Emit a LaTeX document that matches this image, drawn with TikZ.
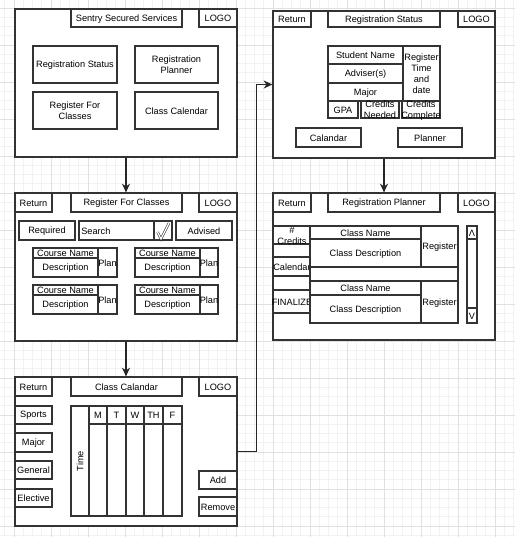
\documentclass[tikz,border=0pt]{standalone}
\usepackage{fontspec}
\setmainfont{Liberation Sans}
\usetikzlibrary{arrows.meta}

\tikzset{
  frame/.style={draw=black!80, fill=white, line width=0.95pt, inner sep=0pt},
  box/.style={draw=black!80, fill=white, line width=0.85pt, inner sep=0pt},
  lbl/.style={inner sep=0pt, align=center, font=\fontsize{6.9}{8.25}\selectfont, text=black},
  conn/.style={draw=black!85, line width=0.9pt, -{Stealth[length=6.5pt,width=6pt,inset=2pt]}},
  gridminor/.style={draw=black!5, line width=0.5pt},
  gridmajor/.style={draw=black!12, line width=0.6pt},
  tick/.style={draw=black!85, line width=0.4pt, double=white, double distance=0.9pt, line join=miter},
}

% \bx[options]{name}{x1}{y1}{x2}{y2}{text}: a box given by its corners (pixel units)
\newcommand\bx[7][]{%
  \node[box,#1,minimum width={((#5)-(#3))*0.75pt},minimum height={((#6)-(#4))*0.75pt},
        label={[lbl,yshift=-0.5pt]center:#7}] (#2) at ({((#3)+(#5))/2},{((#4)+(#6))/2}) {};}

\begin{document}
\begin{tikzpicture}[x=0.75pt,y=-0.75pt]
\useasboundingbox (0,0) rectangle (515,537);
\fill[white] (0,0) rectangle (515,537);

% background grid
\foreach \i in {-1,...,54} \draw[gridminor] ({14+\i*9.25},0) -- ++(0,537);
\foreach \j in {0,...,57} \draw[gridminor] (0,{8+\j*9.25}) -- ++(515,0);
\foreach \i in {0,...,13} \draw[gridmajor] ({14+\i*37},0) -- ++(0,537);
\foreach \j in {0,...,14} \draw[gridmajor] (0,{8+\j*37}) -- ++(515,0);

% ---------- home screen ----------
\bx[frame]{home}{15}{9}{237}{157}{}
\bx{homeTitle}{71}{9}{182}{27}{Sentry Secured Services}
\bx{homeLogo}{199}{9}{237}{27}{LOGO}
\bx{hStatus}{33}{46}{117}{83}{Registration Status}
\bx{hPlanner}{135}{46}{218}{83}{Registration\\Planner}
\bx{hRegister}{33}{92}{117}{129}{Register For\\Classes}
\bx{hCalendar}{135}{92}{218}{129}{Class Calendar}

% ---------- register for classes ----------
\bx[frame]{reg}{15}{193}{237}{341}{}
\bx{regReturn}{15}{193}{52}{212}{Return}
\bx{regTitle}{71}{193}{182}{212}{Register For Classes}
\bx{regLogo}{199}{193}{237}{212}{LOGO}
\bx{required}{19}{221}{75}{240}{Required}
\bx{search}{79}{221}{154}{240}{}
\node[lbl,anchor=west] (searchText) at (81,231) {Search};
\bx{checkBox}{154}{221}{172}{240}{}
\draw[tick] (157.5,232) -- (161,239) -- (169,223);
\bx{advised}{176}{221}{232}{240}{Advised}
% course cards
\foreach \cx/\px/\ex [count=\c] in {33/98/117,135/200/218}{
  \foreach \ry [count=\r] in {248,285}{
    \bx{cardName\c\r}{\cx}{\ry}{\px}{\ry+10}{Course Name}
    \bx{cardDesc\c\r}{\cx}{\ry+10}{\px}{\ry+29}{Description}
    \bx{cardPlan\c\r}{\px}{\ry}{\ex}{\ry+29}{Plan}
  }
}

% ---------- class calendar ----------
\bx[frame]{cal}{15}{377}{237}{526}{}
\bx{calReturn}{15}{377}{52}{396}{Return}
\bx{calTitle}{71}{377}{182}{396}{Class Calandar}
\bx{calLogo}{199}{377}{237}{396}{LOGO}
\bx{sports}{15}{406}{52}{424}{Sports}
\bx{major}{15}{433}{52}{452}{Major}
\bx{general}{15}{461}{52}{479}{General}
\bx{elective}{15}{489}{52}{507}{Elective}
\bx{timeCol}{71}{406}{89}{516}{}
\node[lbl,rotate=90] (timeText) at (80,461) {Time};
\foreach \a/\b/\d [count=\k] in {89/107/M,107/126/T,126/144/W,144/163/TH,163/182/F}{
  \bx{day\k}{\a}{406}{\b}{424}{\d}
  \bx{dayCol\k}{\a}{424}{\b}{516}{}
}
\bx{add}{199}{471}{237}{489}{Add}
\bx{remove}{199}{497}{237}{516}{Remove}

% ---------- registration status ----------
\bx[frame]{status}{273}{11}{495}{158}{}
\bx{stReturn}{273}{11}{311}{27}{Return}
\bx{stTitle}{328}{11}{440}{27}{Registration Status}
\bx{stLogo}{458}{11}{495}{27}{LOGO}
\bx{stName}{328}{46}{403}{64}{Student Name}
\bx{stAdviser}{328}{64}{403}{83}{Adviser(s)}
\bx{stMajor}{328}{83}{403}{101}{Major}
\bx{stTime}{403}{46}{440}{101}{Register\\Time\\and\\date}
\bx{stGpa}{328}{101}{358}{118}{GPA}
\bx{stNeeded}{361}{101}{399}{118}{Credits\\Needed}
\bx{stComplete}{402}{101}{440}{118}{Credits\\Complete}
\bx{stCalendar}{296}{128}{361}{147}{Calandar}
\bx{stPlanner}{398}{128}{462}{147}{Planner}

% ---------- registration planner ----------
\bx[frame]{plan}{273}{193}{495}{340}{}
\bx{plReturn}{273}{193}{311}{212}{Return}
\bx{plTitle}{328}{193}{440}{212}{Registration Planner}
\bx{plLogo}{458}{193}{495}{212}{LOGO}
\bx{plCredits}{273}{226}{311}{244}{\#\\Credits}
\bx{plCalendar}{273}{257}{311}{276}{Calendar}
\bx{plFinalize}{273}{290}{311}{313}{FINALIZE}
\bx{plTable}{310}{226}{458}{323}{}
\bx{plName1}{310}{226}{421}{239}{Class Name}
\bx{plDesc1}{310}{239}{421}{267}{Class Description}
\bx{plReg1}{421}{226}{458}{267}{Register}
\bx{plGap}{310}{267}{458}{281}{}
\bx{plName2}{310}{281}{421}{295}{Class Name}
\bx{plDesc2}{310}{295}{421}{323}{Class Description}
\bx{plReg2}{421}{281}{458}{323}{Register}
\bx{scroll}{467}{226}{477}{323}{}
\bx{scrollUp}{467}{226}{477}{239}{Λ}
\bx{scrollDown}{467}{308}{477}{323}{V}

% ---------- navigation ----------
\draw[conn] (home.south) -- (reg.north);
\draw[conn] (reg.south) -- (cal.north);
\draw[conn] (status.south) -- (plan.north);
\draw[conn] (cal.east) -- ++(19,0) |- (status.west);
\end{tikzpicture}
\end{document}
